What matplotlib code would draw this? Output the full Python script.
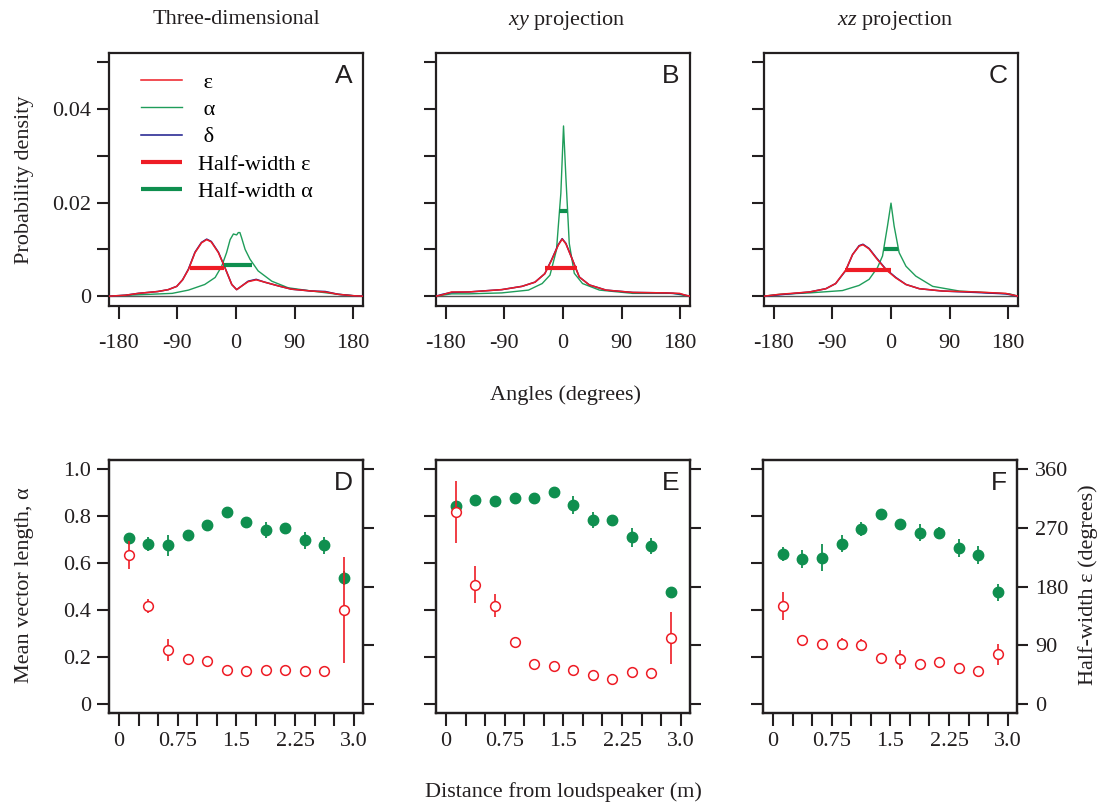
import matplotlib.pyplot as plt

plt.rcParams['font.family'] = ['Liberation Serif', 'DejaVu Serif']
plt.rcParams['mathtext.fontset'] = 'custom'
plt.rcParams['mathtext.rm'] = 'Liberation Serif'
plt.rcParams['mathtext.it'] = 'Liberation Serif:italic'

RED = '#ee1c25'
GREEN = '#0f8f4f'
LGREEN = '#1f9d5a'
BLUE = '#1a1a8c'
INK = '#231f20'
FS = 16

# ---- top row: angle distributions ----
a_eps_x = [-195, -170, -150, -120, -104, -91, -82, -73, -63, -53, -45, -38, -27, -17, -6.5, 1, 9, 18.6, 31, 44, 65, 85, 116, 137, 157, 180, 195]
a_eps_y = [0, 0.0002, 0.0006, 0.0010, 0.0014, 0.0021, 0.0035, 0.0057, 0.0093, 0.0114, 0.0121, 0.0116, 0.0093, 0.0061, 0.0025, 0.0014, 0.0022, 0.0031, 0.0035, 0.0030, 0.0022, 0.0015, 0.0011, 0.0009, 0.0004, 0.0001, 0]
a_del_y = [0, 0.0002, 0.0006, 0.0010, 0.0014, 0.0021, 0.0035, 0.0058, 0.0094, 0.0115, 0.0122, 0.0117, 0.0094, 0.0061, 0.0025, 0.0014, 0.0022, 0.0032, 0.0036, 0.0030, 0.0022, 0.0015, 0.0011, 0.0010, 0.0004, 0.0001, 0]
a_alp_x = [-195, -150, -98, -73, -48, -32, -22, -14.5, -9, -4, 1, 3.5, 6, 8.6, 14, 21.5, 34, 55, 80, 116, 157, 180, 195]
a_alp_y = [0, 0.0003, 0.0006, 0.0013, 0.0025, 0.0040, 0.0064, 0.0093, 0.0121, 0.0133, 0.0131, 0.0136, 0.0136, 0.0125, 0.0100, 0.0079, 0.0054, 0.0032, 0.0018, 0.0011, 0.0004, 0.0001, 0]
a_hw_eps = ([-71, -18], 0.0060)
a_hw_alp = ([-18, 24.7], 0.0067)

b_eps_x = [-195, -185, -171, -145, -94, -63, -43, -28, -17.5, -7.3, -1.3, 4.4, 14.8, 25, 40.5, 66, 107, 158, 179, 188, 195]
b_eps_y = [0, 0.0003, 0.0009, 0.0009, 0.0014, 0.0021, 0.0030, 0.0048, 0.0077, 0.0109, 0.0122, 0.0112, 0.0077, 0.0041, 0.0024, 0.0013, 0.0008, 0.0007, 0.0006, 0.0002, 0]
b_del_y = [0, 0.0004, 0.0008, 0.0009, 0.0014, 0.0021, 0.0030, 0.0048, 0.0078, 0.0110, 0.0123, 0.0113, 0.0077, 0.0041, 0.0024, 0.0013, 0.0008, 0.0007, 0.0005, 0.0002, 0]
b_alp_x = [-195, -171, -145, -94, -53, -32, -20, -10, -3.3, 0.8, 4.4, 9.6, 17.3, 30, 56, 107, 169, 185, 195]
b_alp_y = [0, 0.0005, 0.0005, 0.0007, 0.0013, 0.0027, 0.0045, 0.0099, 0.0220, 0.0364, 0.0255, 0.0113, 0.0049, 0.0027, 0.0013, 0.0006, 0.0006, 0.0002, 0]
b_hw_eps = ([-28, 22], 0.0061)
b_hw_alp = ([-6.4, 6.4], 0.0182)

c_eps_x = [-195, -171, -125, -100, -85, -69.4, -59, -49, -43, -33.6, -23, -8, 7.4, 23, 43.5, 79, 130, 176, 195]
c_eps_y = [0, 0.0004, 0.0009, 0.0016, 0.0027, 0.0056, 0.0089, 0.0107, 0.0110, 0.0101, 0.0082, 0.0057, 0.0039, 0.0025, 0.0016, 0.0011, 0.0009, 0.0006, 0]
c_del_y = [0, 0.0003, 0.0009, 0.0016, 0.0027, 0.0055, 0.0089, 0.0108, 0.0111, 0.0102, 0.0083, 0.0058, 0.0040, 0.0025, 0.0016, 0.0011, 0.0008, 0.0005, 0]
c_alp_x = [-195, -171, -125, -74.6, -49, -33.6, -20.8, -13, -5.4, 0, 4.8, 12.5, 23, 38, 64, 105, 156, 182, 195]
c_alp_y = [0, 0.0004, 0.0007, 0.0012, 0.0023, 0.0036, 0.0061, 0.0086, 0.0150, 0.0199, 0.0150, 0.0093, 0.0064, 0.0043, 0.0021, 0.0011, 0.0007, 0.0005, 0]
c_hw_eps = ([-70, 0.3], 0.0056)
c_hw_alp = ([-11.5, 10.4], 0.0100)

# ---- bottom row: vs distance ----
dist = [0.125, 0.375, 0.625, 0.875, 1.125, 1.375, 1.625, 1.875, 2.125, 2.375, 2.625, 2.875]

d_alpha = [0.705, 0.679, 0.675, 0.718, 0.762, 0.818, 0.776, 0.740, 0.749, 0.696, 0.675, 0.536]
d_alpha_err = [0.015, 0.03, 0.045, 0.02, 0.02, 0.01, 0.015, 0.035, 0.015, 0.035, 0.035, 0.03]
d_eps = [228, 150, 83, 69, 66, 52, 51, 51.5, 52.6, 50.6, 51, 144.5]
d_eps_err = [21.6, 11, 17, 7, 4, 3, 3, 3, 3, 3, 3, 81]

e_alpha = [0.843, 0.867, 0.862, 0.878, 0.878, 0.901, 0.847, 0.784, 0.783, 0.709, 0.672, 0.475]
e_alpha_err = [0.01, 0.01, 0.01, 0.01, 0.01, 0.01, 0.037, 0.034, 0.01, 0.039, 0.034, 0.01]
e_eps = [294, 183, 150.6, 95.5, 60.8, 58, 51.6, 45, 38.3, 49, 48, 100.6]
e_eps_err = [47, 29, 17.6, 5.4, 7, 3, 3, 3, 3, 3, 3, 40]

f_alpha = [0.637, 0.617, 0.623, 0.682, 0.746, 0.810, 0.766, 0.729, 0.729, 0.662, 0.633, 0.475]
f_alpha_err = [0.03, 0.039, 0.058, 0.037, 0.03, 0.01, 0.015, 0.035, 0.025, 0.038, 0.039, 0.035]
f_eps = [150.6, 97.5, 91.4, 91.9, 89.9, 70.5, 68.4, 61.8, 64.3, 54.6, 50, 76]
f_eps_err = [21.7, 3, 3, 9, 9, 3, 14.5, 3, 3, 3, 3, 16]

fig = plt.figure(figsize=(11.03, 8.06), dpi=100)

lefts = [109 / 1103, 436 / 1103, 764 / 1103]
W = 254 / 1103
H = 253 / 806
top_b = (806 - 306) / 806
bot_b = (806 - 713) / 806


def frame(ax):
    for s in ax.spines.values():
        s.set_linewidth(1.6)
        s.set_color(INK)


top_data = [
    (a_eps_x, a_eps_y, a_del_y, a_alp_x, a_alp_y, a_hw_eps, a_hw_alp, 'A'),
    (b_eps_x, b_eps_y, b_del_y, b_alp_x, b_alp_y, b_hw_eps, b_hw_alp, 'B'),
    (c_eps_x, c_eps_y, c_del_y, c_alp_x, c_alp_y, c_hw_eps, c_hw_alp, 'C'),
]

for i, (ex, ey, dy, ax_, ay, hwe, hwa, letter) in enumerate(top_data):
    ax = fig.add_axes([lefts[i], top_b, W, H])
    frame(ax)
    ax.axhline(0, color='#555555', lw=1, zorder=1)
    ax.plot(ax_, ay, color=LGREEN, lw=1, label=' α', zorder=2)
    ax.plot(ex, dy, color=BLUE, lw=1.1, label=' δ', zorder=3)
    ax.plot(ex, ey, color=RED, lw=1.1, label=' ε', zorder=4)
    ax.plot(hwe[0], [hwe[1], hwe[1]], color=RED, lw=3, solid_capstyle='butt', zorder=5, label='Half-width ε')
    ax.plot(hwa[0], [hwa[1], hwa[1]], color=GREEN, lw=3, solid_capstyle='butt', zorder=5, label='Half-width α')
    ax.set_xlim(-195, 195)
    ax.set_ylim(-0.0021, 0.052)
    ax.set_xticks([-180, -90, 0, 90, 180])
    ax.set_xticklabels(['-180', '-90', '0', '90', '180'])
    ax.set_yticks([0, 0.01, 0.02, 0.03, 0.04, 0.05])
    if i == 0:
        ax.set_yticklabels(['0', '', '0.02', '', '0.04', ''])
    else:
        ax.set_yticklabels([])
    ax.tick_params(axis='x', direction='out', length=9, width=1.5, pad=11, labelsize=FS, colors=INK)
    ax.tick_params(axis='y', direction='out', length=9, width=1.5, pad=4, labelsize=FS, colors=INK)
    ax.text(0.96, 0.955, letter, transform=ax.transAxes, ha='right', va='top',
            fontsize=19, family='Liberation Sans', color=INK)
    if i == 0:
        h, l = ax.get_legend_handles_labels()
        order = [2, 0, 1, 3, 4]
        ax.legend([h[k] for k in order], [l[k] for k in order], loc='upper left',
                  bbox_to_anchor=(0.065, 0.985), frameon=False, fontsize=FS,
                  handlelength=1.85, handletextpad=0.7, labelspacing=0.3, borderpad=0.2)

bot_data = [
    (d_alpha, d_alpha_err, d_eps, d_eps_err, 'D'),
    (e_alpha, e_alpha_err, e_eps, e_eps_err, 'E'),
    (f_alpha, f_alpha_err, f_eps, f_eps_err, 'F'),
]

for i, (al, ale, ep, epe, letter) in enumerate(bot_data):
    ax = fig.add_axes([lefts[i] if i != 2 else 763 / 1103, bot_b, W, H])
    frame(ax)
    ax.errorbar(dist, al, yerr=ale, fmt='o', color=GREEN, ms=7.5, elinewidth=1.3, capsize=0)
    ax.set_xlim(-0.13, 3.12)
    ax.set_ylim(-0.038, 1.038)
    ax.set_xticks([k * 0.25 for k in range(13)])
    ax.set_xticklabels(['0', '', '', '0.75', '', '', '1.5', '', '', '2.25', '', '', '3.0'])
    ax.set_yticks([0, 0.2, 0.4, 0.6, 0.8, 1.0])
    if i == 0:
        ax.set_yticklabels(['0', '0.2', '0.4', '0.6', '0.8', '1.0'])
    else:
        ax.set_yticklabels([])
    ax.tick_params(axis='x', direction='out', length=9, width=1.5, pad=5, labelsize=FS, colors=INK)
    ax.tick_params(axis='y', direction='out', length=9, width=1.5, pad=4, labelsize=FS, colors=INK)

    ax2 = ax.twinx()
    frame(ax2)
    ax2.errorbar(dist, ep, yerr=epe, fmt='o', color=RED, mfc='white', mec=RED,
                 ms=7, mew=1.1, elinewidth=1.2, capsize=0)
    ax2.set_ylim(-0.038 * 360, 1.038 * 360)
    ax2.set_yticks([0, 90, 180, 270, 360])
    if i == 2:
        ax2.set_yticklabels(['0', '90', '180', '270', '360'])
    else:
        ax2.set_yticklabels([])
    ax2.tick_params(axis='y', direction='out', length=8, width=1.5, pad=5, labelsize=FS, colors=INK)
    ax.text(0.96, 0.955, letter, transform=ax.transAxes, ha='right', va='top',
            fontsize=19, family='Liberation Sans', color=INK, zorder=10)

fig.text(236 / 1103, 1 - 20 / 806, 'Three-dimensional', ha='center', va='center', fontsize=FS, color=INK)
fig.text(567 / 1103, 1 - 20 / 806, '$xy$ projection', ha='center', va='center', fontsize=FS, color=INK)
fig.text(895 / 1103, 1 - 20 / 806, '$xz$ projection', ha='center', va='center', fontsize=FS, color=INK)
fig.text(25 / 1103, 1 - 180 / 806, 'Probability density', rotation=90, ha='center', va='center', fontsize=FS, color=INK)
fig.text(25 / 1103, 1 - 585 / 806, 'Mean vector length, α', rotation=90, ha='center', va='center', fontsize=FS, color=INK)
fig.text(1088 / 1103, 1 - 585 / 806, 'Half-width ε (degrees)', rotation=90, ha='center', va='center', fontsize=FS, color=INK)
fig.text(565 / 1103, 1 - 395 / 806, 'Angles (degrees)', ha='center', va='center', fontsize=FS, color=INK)
fig.text(563 / 1103, 1 - 792 / 806, 'Distance from loudspeaker (m)', ha='center', va='center', fontsize=FS, color=INK)

fig.savefig('out.png', dpi=100)
